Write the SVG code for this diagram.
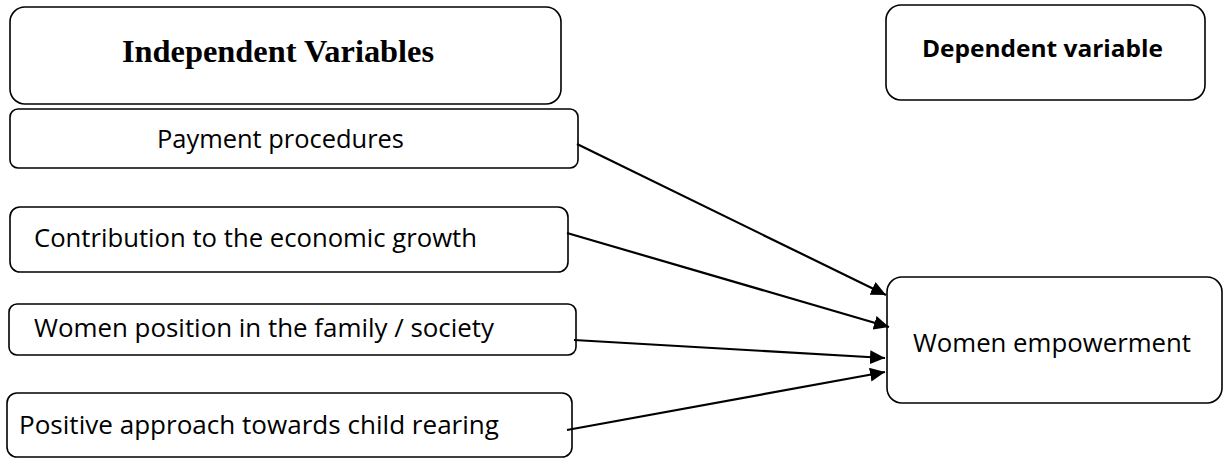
<svg xmlns="http://www.w3.org/2000/svg" width="1223" height="459" viewBox="0 0 1223 459">
<style>
.box{fill:#fff;stroke:#000;stroke-width:1.6}
.t{font-family:"Open Sans","Liberation Sans",sans-serif;font-size:26px;fill:#000}
.b{font-weight:bold;font-size:24px}
.h{font-family:"Liberation Serif","Times New Roman",serif;font-size:32px;font-weight:bold;fill:#000}
.c{stroke:#000;stroke-width:2.2;fill:none;marker-end:url(#ah)}
</style>
<defs>
<marker id="ah" markerUnits="userSpaceOnUse" markerWidth="16" markerHeight="14" refX="15" refY="7" orient="auto">
<path d="M0,0 L15,7 L0,14 z" fill="#000"/>
</marker>
</defs>
<rect width="1223" height="459" fill="#fff"/>
<g id="independent-header">
<rect class="box" x="10" y="7" width="551" height="97" rx="15"/>
<text class="h" x="122" y="62" textLength="312" lengthAdjust="spacingAndGlyphs">Independent Variables</text>
</g>
<g id="dependent-header">
<rect class="box" x="886" y="5" width="319" height="95" rx="15"/>
<text class="t b" x="922" y="57" textLength="241" lengthAdjust="spacingAndGlyphs">Dependent variable</text>
</g>
<g id="payment">
<rect class="box" x="10" y="109" width="568" height="59" rx="8"/>
<text class="t" x="157" y="148" textLength="247" lengthAdjust="spacingAndGlyphs">Payment procedures</text>
</g>
<g id="contribution">
<rect class="box" x="10" y="207" width="558" height="65" rx="10"/>
<text class="t" x="34" y="247" textLength="443" lengthAdjust="spacingAndGlyphs">Contribution to the economic growth</text>
</g>
<g id="position">
<rect class="box" x="9" y="304" width="567" height="51" rx="8"/>
<text class="t" x="34" y="337" textLength="460" lengthAdjust="spacingAndGlyphs">Women position in the family / society</text>
</g>
<g id="child-rearing">
<rect class="box" x="7" y="393" width="565" height="64" rx="10"/>
<text class="t" x="19" y="434" textLength="480" lengthAdjust="spacingAndGlyphs">Positive approach towards child rearing</text>
</g>
<g id="women-empowerment">
<rect class="box" x="887" y="277" width="335" height="126" rx="15"/>
<text class="t" x="913" y="352" textLength="278" lengthAdjust="spacingAndGlyphs">Women empowerment</text>
</g>
<g id="connectors">
<line class="c" x1="577" y1="144" x2="886" y2="295"/>
<line class="c" x1="567" y1="233" x2="889" y2="327"/>
<line class="c" x1="574" y1="340" x2="885" y2="358"/>
<line class="c" x1="567" y1="430" x2="885" y2="372"/>
</g>
</svg>
